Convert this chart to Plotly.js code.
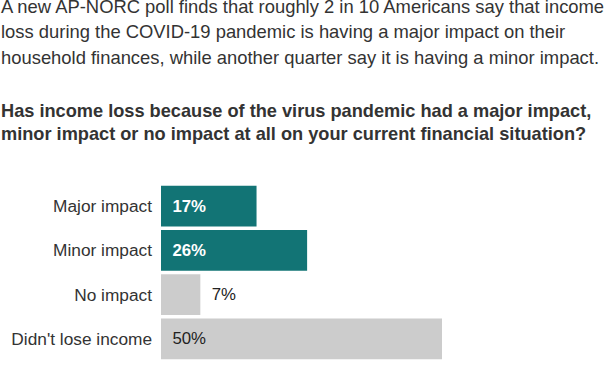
<!DOCTYPE html>
<html>
<head>
<meta charset="utf-8">
<script src="https://cdn.plot.ly/plotly-3.0.1.min.js"></script>
<style>html,body{margin:0;padding:0;background:#fff;}#chart{width:612px;height:374px;}</style>
</head>
<body>
<div id="chart"></div>
<script>
var categories = ["Major impact", "Minor impact", "No impact", "Didn't lose income"];
var values = [17, 26, 7, 50];
var valueLabels = ["<b>17%</b>", "<b>26%</b>", "7%", "50%"];
var barColors = ["#127475", "#127475", "#cccccc", "#cccccc"];
var labelColors = ["#ffffff", "#ffffff", "#222222", "#222222"];
var labelPositions = ["inside", "inside", "outside", "inside"];
var subtitleLines = [
  "A new AP-NORC poll finds that roughly 2 in 10 Americans say that income",
  "loss during the COVID-19 pandemic is having a major impact on their",
  "household finances, while another quarter say it is having a minor impact."
];
var questionLines = [
  "Has income loss because of the virus pandemic had a major impact,",
  "minor impact or no impact at all on your current financial situation?"
];

var FONT = "'Liberation Sans', Arial, sans-serif";
var PLOT_TOP = 184;

var trace = {
  type: 'bar',
  orientation: 'h',
  x: values,
  y: categories,
  text: valueLabels.map(function (t) { return '\u2002' + t; }),
  texttemplate: '%{text}',
  textposition: labelPositions,
  insidetextanchor: 'start',
  textangle: 0,
  cliponaxis: false,
  constraintext: 'none',
  textfont: {family: FONT, size: 16.8, color: labelColors},
  insidetextfont: {family: FONT, size: 16.8, color: labelColors},
  outsidetextfont: {family: FONT, size: 16.8, color: labelColors},
  marker: {color: barColors, line: {width: 0}},
  hoverinfo: 'none'
};

function lineAnn(text, baselinePx, size, bold) {
  var center = baselinePx - 0.3465 * size;
  return {
    xref: 'paper', yref: 'paper', x: 0, y: 1, xanchor: 'left', yanchor: 'middle',
    xshift: -162, yshift: PLOT_TOP - center,
    align: 'left', showarrow: false,
    text: bold ? '<b>' + text + '</b>' : text,
    font: {family: FONT, size: size, color: '#333333'}
  };
}

var subBaselines = [12.5, 38, 63.5];
var qBaselines = [117, 140.5];
var annotations = [];
subtitleLines.forEach(function (t, i) { annotations.push(lineAnn(t, subBaselines[i], 18.4, false)); });
questionLines.forEach(function (t, i) { annotations.push(lineAnn(t, qBaselines[i], 18.2, true)); });

var layout = {
  width: 612,
  height: 374,
  margin: {l: 161, r: 0, t: PLOT_TOP, b: 13, pad: 0},
  paper_bgcolor: '#ffffff',
  plot_bgcolor: '#ffffff',
  showlegend: false,
  bargap: 0.08,
  font: {family: FONT, color: '#333333'},
  xaxis: {
    range: [0, 80.25],
    showgrid: false, zeroline: false, showline: false,
    showticklabels: false, ticks: '', fixedrange: true
  },
  yaxis: {
    autorange: 'reversed',
    showgrid: false, zeroline: false, showline: false,
    ticks: '', ticklabelstandoff: 8,
    tickfont: {family: FONT, size: 17.3, color: '#333333'},
    fixedrange: true
  },
  annotations: annotations
};

Plotly.newPlot('chart', [trace], layout, {displayModeBar: false, staticPlot: true});
</script>
</body>
</html>
